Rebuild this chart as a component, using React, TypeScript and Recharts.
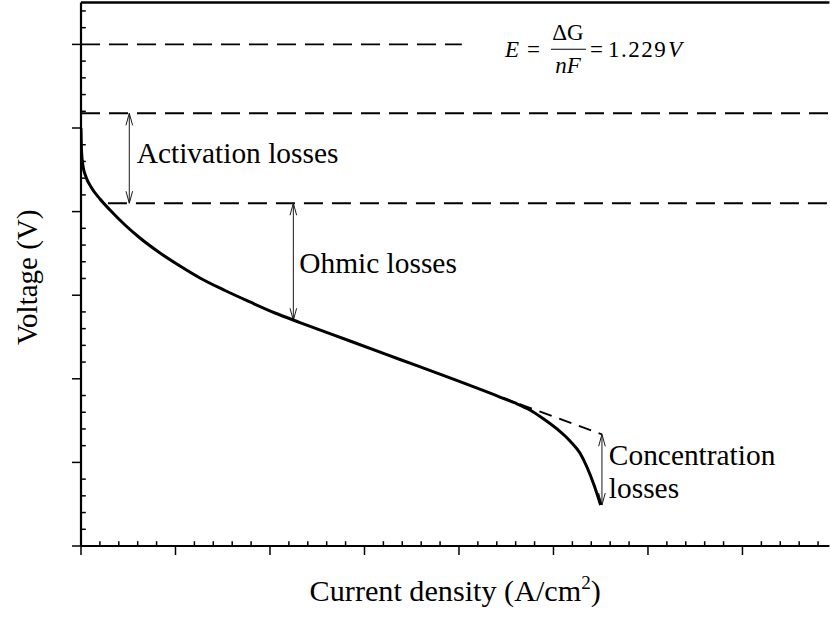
import React from 'react';
import { LineChart, Line, XAxis, YAxis, ReferenceLine, ReferenceDot, Label } from 'recharts';

// Polarization curve: current density (major-tick units) vs cell voltage (major-tick units)
const currentDensity = [
  0, 0.005, 0.021, 0.053, 0.106, 0.201, 0.307, 0.466, 0.624, 0.836, 1.048, 1.259,
  1.524, 1.788, 2.053, 2.317, 2.847, 3.376, 3.905, 4.434, 4.593, 4.751, 4.889,
  5.037, 5.175, 5.28, 5.354, 5.429, 5.499,
];
const voltage = [
  5.0, 4.737, 4.545, 4.414, 4.294, 4.151, 4.019, 3.84, 3.684, 3.505, 3.349, 3.206,
  3.056, 2.919, 2.787, 2.673, 2.452, 2.231, 2.01, 1.782, 1.711, 1.627, 1.525,
  1.4, 1.256, 1.112, 0.945, 0.73, 0.49,
];

const xMajorTicks = [0, 1, 2, 3, 4, 5, 6, 7];
const xMinorTicks = [
  0.2, 0.4, 0.6, 0.8, 1.2, 1.4, 1.6, 1.8, 2.2, 2.4, 2.6, 2.8, 3.2, 3.4, 3.6, 3.8,
  4.2, 4.4, 4.6, 4.8, 5.2, 5.4, 5.6, 5.8, 6.2, 6.4, 6.6, 6.8, 7.2, 7.4, 7.6, 7.8,
];
const yMajorTicks = [0, 1, 2, 3, 4, 5, 6];
const yMinorTicks = [
  0.2, 0.4, 0.6, 0.8, 1.2, 1.4, 1.6, 1.8, 2.2, 2.4, 2.6, 2.8, 3.2, 3.4, 3.6, 3.8,
  4.2, 4.4, 4.6, 4.8, 5.2, 5.4, 5.6, 5.8, 6.2, 6.4,
];

// Reference levels
const theoreticalLevel = 6.0;
const theoreticalEnd = 4.03;
const activationTop = 5.176;
const activationBottom = 4.1;
const activationStart = 0.285;
const ohmicEnd = 2.7;
const concentrationStart = { u: 4.434, v: 1.782 };
const concentrationEnd = { u: 5.513, v: 1.336 };
const curveEnd = 0.49;

// Arrow positions along the current-density axis
const activationArrowAt = 0.511;
const ohmicArrowAt = 2.247;
const concentrationArrowAt = 5.513;

// Annotation anchors
const activationLabel = { u: 0.59, v: 4.58, text: 'Activation losses' };
const ohmicLabel = { u: 2.31, v: 3.27, text: 'Ohmic losses' };
const concentrationLabel = { u: 5.586, v: 0.969, lines: ['Concentration', 'losses'] };
const equationAnchor = { u: 4.487, v: 5.85 };

const X_DOMAIN: [number, number] = [0, 7.92];
const Y_DOMAIN: [number, number] = [0, 6.5];

const data = currentDensity.map((u, i) => ({ u, v: voltage[i] }));
const xTicks = [...xMajorTicks, ...xMinorTicks].sort((a, b) => a - b);
const yTicks = [...yMajorTicks, ...yMinorTicks].sort((a, b) => a - b);

const FONT = 'Liberation Serif';
const TEXT_SIZE = 29.4;
const serifStyle = { fontFamily: FONT };

const MAJOR_LEN = 9;
const MINOR_LEN = 4.8;

// Bottom axis ticks: majors point outward (down), minors point inward (up)
const XTickMark = (props: any) => {
  const { x, y, payload } = props;
  const major = xMajorTicks.includes(payload.value);
  return (
    <line
      x1={x}
      y1={y}
      x2={x}
      y2={major ? y + MAJOR_LEN : y - MINOR_LEN}
      stroke="#000"
      strokeWidth={1.5}
    />
  );
};

// Left axis ticks: majors point outward (left), minors point inward (right)
const YTickMark = (props: any) => {
  const { x, y, payload } = props;
  const major = yMajorTicks.includes(payload.value);
  return (
    <line
      x1={x}
      y1={y}
      x2={major ? x - MAJOR_LEN : x + MINOR_LEN}
      y2={y}
      stroke="#000"
      strokeWidth={1.5}
    />
  );
};

const DoubleArrow = (props: any) => {
  const { x1, y1, x2, y2 } = props;
  const head = 12;
  const half = 3.3;
  const dir = Math.sign(y2 - y1) || 1;
  return (
    <g stroke="#1a1a1a" strokeWidth={1} fill="none">
      <line x1={x1} y1={y1} x2={x2} y2={y2} />
      <polyline points={`${x1 - half},${y1 + dir * head} ${x1},${y1} ${x1 + half},${y1 + dir * head}`} />
      <polyline points={`${x2 - half},${y2 - dir * head} ${x2},${y2} ${x2 + half},${y2 - dir * head}`} />
    </g>
  );
};

const centerOf = (p: any) => {
  const vb = p.viewBox || { x: 0, y: 0, width: 0, height: 0 };
  return { cx: vb.x + (vb.width || 0) / 2, cy: vb.y + (vb.height || 0) / 2 };
};

const textLabel = (lines: string[], lineGap: number) => (p: any) => {
  const { cx, cy } = centerOf(p);
  return (
    <text
      x={cx}
      y={cy}
      fontFamily={FONT}
      style={serifStyle}
      fontSize={TEXT_SIZE}
      fill="#000"
      textAnchor="start"
    >
      {lines.map((l, i) => (
        <tspan key={i} x={cx} dy={i === 0 ? 0 : lineGap}>
          {l}
        </tspan>
      ))}
    </text>
  );
};

const EquationLabel = (p: any) => {
  const { cx, cy } = centerOf(p);
  const fs = 23;
  const t = { fontFamily: FONT, style: serifStyle, fontSize: fs, fill: '#000' };
  return (
    <g>
      <text {...t} x={cx} y={cy} fontStyle="italic">E</text>
      <text {...t} x={cx + 22} y={cy}>=</text>
      <text {...t} x={cx + 63} y={cy - 17} textAnchor="middle">ΔG</text>
      <line x1={cx + 46} y1={cy - 7.7} x2={cx + 81} y2={cy - 7.7} stroke="#000" strokeWidth={1.2} />
      <text {...t} x={cx + 63} y={cy + 16} textAnchor="middle" fontStyle="italic">nF</text>
      <text {...t} x={cx + 85} y={cy}>=</text>
      <text {...t} x={cx + 103} y={cy} letterSpacing={1.5}>1.229</text>
      <text {...t} x={cx + 163} y={cy} fontStyle="italic">V</text>
    </g>
  );
};

const XTitle = (p: any) => {
  const vb = p.viewBox || { x: 81, y: 546, width: 748, height: 1 };
  const cx = vb.x + vb.width / 2;
  const y = vb.y + 55;
  return (
    <text
      x={cx}
      y={y}
      fontFamily={FONT}
      style={serifStyle}
      fontSize={30.2}
      fill="#000"
      textAnchor="middle"
    >
      Current density (A/cm
      <tspan dy={-12} fontSize={19}>2</tspan>
      <tspan dy={12}>)</tspan>
    </text>
  );
};

const YTitle = (p: any) => {
  const vb = p.viewBox || { x: 80, y: 2.6, width: 1, height: 543 };
  const x = vb.x + (vb.width || 0) - 43.5;
  const y = vb.y + vb.height / 2 + 3;
  return (
    <text
      x={x}
      y={y}
      transform={`rotate(-90, ${x}, ${y})`}
      fontFamily={FONT}
      style={serifStyle}
      fontSize={29}
      fill="#000"
      textAnchor="middle"
    >
      Voltage (V)
    </text>
  );
};

const dashed = { stroke: '#000', strokeWidth: 1.9, strokeDasharray: '19 9' };
const axisLineStyle = { stroke: '#000', strokeWidth: 2.2 };

export default function App() {
  return (
    <div
      style={{
        position: 'absolute',
        left: 0,
        top: 0,
        width: 830,
        height: 628,
        overflow: 'hidden',
        background: '#fff',
        fontFamily: FONT,
      }}
    >
      <LineChart
        width={830}
        height={628}
        data={data}
        margin={{ top: 1.6, right: 0.6, bottom: 81, left: 80 }}
        style={serifStyle}
      >
        <XAxis
          xAxisId={0}
          type="number"
          dataKey="u"
          domain={X_DOMAIN}
          allowDataOverflow
          ticks={xTicks}
          interval={0}
          tick={XTickMark}
          tickSize={0}
          tickMargin={0}
          tickLine={false}
          height={1}
          axisLine={axisLineStyle}
          label={<Label content={XTitle} />}
        />
        <XAxis
          xAxisId="frame"
          orientation="top"
          type="number"
          domain={X_DOMAIN}
          allowDataOverflow
          ticks={[0]}
          tick={false}
          tickLine={false}
          height={1}
          axisLine={{ stroke: '#000', strokeWidth: 2.5 }}
        />
        <YAxis
          yAxisId={0}
          type="number"
          domain={Y_DOMAIN}
          allowDataOverflow
          ticks={yTicks}
          interval={0}
          tick={YTickMark}
          tickSize={0}
          tickMargin={0}
          tickLine={false}
          width={1}
          axisLine={axisLineStyle}
          label={<Label content={YTitle} />}
        />

        {/* Theoretical open-circuit voltage */}
        <ReferenceLine
          segment={[
            { x: 0, y: theoreticalLevel },
            { x: theoreticalEnd, y: theoreticalLevel },
          ]}
          ifOverflow="visible"
          {...dashed}
        />
        <ReferenceLine
          segment={[
            { x: 0, y: activationTop },
            { x: X_DOMAIN[1], y: activationTop },
          ]}
          ifOverflow="visible"
          {...dashed}
        />
        <ReferenceLine
          segment={[
            { x: activationStart, y: activationBottom },
            { x: X_DOMAIN[1], y: activationBottom },
          ]}
          ifOverflow="visible"
          {...dashed}
        />
        <ReferenceLine
          segment={[
            { x: concentrationStart.u, y: concentrationStart.v },
            { x: concentrationEnd.u, y: concentrationEnd.v },
          ]}
          ifOverflow="visible"
          stroke="#000"
          strokeWidth={1.9}
          strokeDasharray="13 8"
        />

        {/* Loss arrows */}
        <ReferenceLine
          segment={[
            { x: activationArrowAt, y: activationTop },
            { x: activationArrowAt, y: activationBottom },
          ]}
          ifOverflow="visible"
          shape={DoubleArrow}
        />
        <ReferenceLine
          segment={[
            { x: ohmicArrowAt, y: activationBottom },
            { x: ohmicArrowAt, y: ohmicEnd },
          ]}
          ifOverflow="visible"
          shape={DoubleArrow}
        />
        <ReferenceLine
          segment={[
            { x: concentrationArrowAt, y: concentrationEnd.v },
            { x: concentrationArrowAt, y: curveEnd },
          ]}
          ifOverflow="visible"
          shape={DoubleArrow}
        />

        <Line
          type="monotone"
          dataKey="v"
          stroke="#000"
          strokeWidth={3}
          dot={false}
          activeDot={false}
          isAnimationActive={false}
        />

        <ReferenceDot x={activationLabel.u} y={activationLabel.v} r={0.5} fill="none" stroke="none" ifOverflow="visible">
          <Label content={textLabel([activationLabel.text], 0)} />
        </ReferenceDot>
        <ReferenceDot x={ohmicLabel.u} y={ohmicLabel.v} r={0.5} fill="none" stroke="none" ifOverflow="visible">
          <Label content={textLabel([ohmicLabel.text], 0)} />
        </ReferenceDot>
        <ReferenceDot x={concentrationLabel.u} y={concentrationLabel.v} r={0.5} fill="none" stroke="none" ifOverflow="visible">
          <Label content={textLabel(concentrationLabel.lines, 33.3)} />
        </ReferenceDot>
        <ReferenceDot x={equationAnchor.u} y={equationAnchor.v} r={0.5} fill="none" stroke="none" ifOverflow="visible">
          <Label content={EquationLabel} />
        </ReferenceDot>
      </LineChart>
    </div>
  );
}
